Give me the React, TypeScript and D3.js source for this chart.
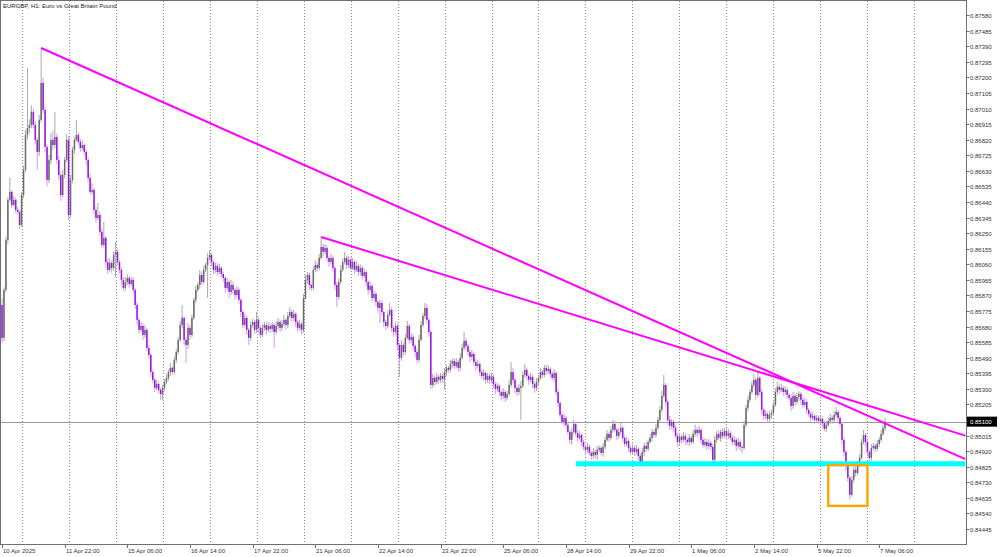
import React, { useEffect } from 'react';
import * as d3 from 'd3';

// EURGBP H1 — hourly closes, price × 100000, first bar = 10 Apr 2025 14:00
const firstOpen = 85812;
const closesW1 = [
  85611, 85904, 86209, 86453, 86502, 86422, 86453, 86392, 86380, 86300,
  86483, 86636, 86849, 86892, 86910, 86990, 86910, 86819, 86746, 86941, 87167, 87002,
  86776, 86575, 86697, 86819, 86788, 86837, 86697, 86605, 86483, 86605, 86697, 86819,
];
const closesW2 = [
  86361, 86575, 86758, 86819, 86849, 86807, 86770, 86788, 86746, 86697, 86587, 86502,
  86514, 86392, 86343, 86361, 86258, 86178, 86221, 86074, 86026, 86068, 86038, 86117,
  86136, 86074, 86026, 85965, 85916, 85952, 85977, 85940, 85965, 85904, 85812, 85721,
  85660, 85684, 85629, 85660, 85550, 85507, 85403, 85355, 85306, 85330, 85294, 85269,
  85306, 85342, 85367, 85403, 85428, 85403, 85477, 85525, 85599, 85690, 85733, 85599,
  85568, 85672, 85629, 85733, 85843, 85904, 85934, 85995, 85952, 86026, 86056, 86099,
  86117, 86074, 86026, 86050, 86013, 86038, 86001, 85977, 85916, 85952, 85891, 85934,
  85904, 85873, 85904, 85843, 85769, 85690, 85733, 85660, 85611, 85690, 85708, 85660,
  85721, 85672, 85629, 85672, 85690, 85660, 85684, 85666, 85690, 85647, 85684, 85708,
  85672, 85696, 85721, 85690, 85745, 85769, 85733, 85757, 85708, 85672, 85696, 85660,
];
const closesW3 = [
  85855, 85965, 85995, 85934, 85916, 86026, 86056, 86038, 86099, 86166, 86136, 86160,
  86099, 86074, 86099, 86038, 85934, 85861, 85952, 86026, 86074, 86099, 86056, 86087,
  86038, 86074, 86026, 86050, 86013, 86038, 85989, 86013, 85952, 85904, 85928, 85855,
  85879, 85830, 85794, 85824, 85769, 85708, 85684, 85751, 85782, 85672, 85647, 85684,
  85568, 85489, 85568, 85525, 85611, 85684, 85599, 85617, 85562, 85525, 85477, 85599,
  85690, 85745, 85794, 85721, 85647, 85324, 85367, 85342, 85373, 85355, 85379, 85361,
  85403, 85428, 85416, 85452, 85470, 85440, 85464, 85428, 85489, 85550, 85593, 85562,
  85525, 85495, 85513, 85464, 85440, 85452, 85403, 85379, 85397, 85355, 85379, 85355,
  85373, 85330, 85300, 85318, 85281, 85257, 85281, 85245, 85269, 85324, 85403, 85355,
  85306, 85281, 85306, 85318, 85385, 85416, 85379, 85355, 85373, 85330, 85306, 85342,
];
const closesW4 = [
  85367, 85403, 85385, 85428, 85409, 85422, 85391, 85367, 85397, 85281, 85214, 85141,
  85098, 85123, 85080, 85037, 84989, 85037, 85086, 85031, 85001, 85019, 84976, 84946,
  84928, 84946, 84909, 84891, 84915, 84897, 84928, 84940, 84909, 84946, 84989, 85025,
  85001, 85050, 85086, 85050, 85013, 85037, 85062, 85001, 84964, 84982, 84940, 84915,
  84940, 84915, 84934, 84891, 84854, 84915, 84952, 84934, 84976, 85001, 85037, 85019,
  85062, 85111, 85172, 85257, 85324, 85220, 85111, 85074, 85098, 85062, 85013, 84976,
  85007, 84989, 85013, 84989, 84976, 85001, 84976, 85025, 85050, 85031, 85050, 84989,
  84958, 84976, 84952, 84970, 84946, 84867, 84989, 85025, 85001, 85037, 85013, 85043,
  85013, 85031, 85001, 84976, 84989, 84952, 84976, 84946, 84940, 85080, 85184, 85233,
  85281, 85324, 85355, 85263, 85367, 85281, 85172, 85135, 85147, 85117, 85141, 85153,
];
const closesW5 = [
  85202, 85281, 85312, 85294, 85306, 85281, 85294, 85263, 85245, 85196, 85257, 85220,
  85251, 85269, 85233, 85202, 85220, 85172, 85147, 85123, 85135, 85111, 85123, 85104,
  85117, 85092, 85056, 85080, 85104, 85123, 85111, 85141, 85159, 85123, 85086, 84989,
  84915, 84830, 84757, 84653, 84745, 84806, 84787, 84842, 84879, 84976, 85019, 84976,
  84915, 84879, 84940, 84952, 84934, 84964, 84989, 85025, 85062, 85100,
];

// upper / lower shadow beyond the body, in points (0.00001)
const upperW1 = [
  43, 15, 20, 18, 90, 12, 25, 15, 20, 12,
  18, 25, 30, 366, 35, 40, 20, 25, 15, 30, 214, 30,
  18, 15, 30, 40, 55, 153, 20, 25, 15, 30, 20, 35,
];
const lowerW1 = [
  30, 20, 15, 25, 12, 18, 10, 20, 15, 25,
  12, 20, 15, 25, 30, 18, 22, 28, 110, 25, 15, 20,
  35, 40, 20, 25, 30, 18, 24, 30, 35, 15, 20, 12,
];
const upperW2 = [
  25, 30, 20, 18, 92, 15, 20, 30, 12, 18, 15, 24,
  40, 12, 18, 73, 15, 20, 98, 12, 18, 30, 15, 24,
  61, 20, 12, 15, 18, 30, 24, 12, 20, 15, 10, 18,
  12, 24, 15, 30, 12, 18, 10, 15, 12, 24, 15, 12,
  20, 18, 24, 15, 30, 12, 20, 18, 15, 24, 79, 12,
  15, 30, 18, 20, 15, 24, 18, 30, 20, 24, 15, 30,
  30, 15, 12, 20, 18, 24, 12, 15, 10, 24, 15, 30,
  18, 12, 24, 15, 10, 12, 30, 15, 12, 24, 18, 15,
  49, 15, 12, 24, 20, 15, 24, 18, 20, 12, 30, 24,
  15, 24, 30, 12, 24, 30, 15, 24, 12, 15, 24, 12,
];
const lowerW2 = [
  30, 15, 20, 24, 12, 18, 24, 15, 20, 30, 24, 18,
  15, 24, 30, 12, 24, 18, 15, 30, 24, 12, 30, 18,
  134, 18, 24, 30, 20, 15, 18, 24, 12, 20, 24, 30,
  24, 15, 30, 18, 20, 24, 30, 18, 24, 15, 20, 37,
  37, 15, 12, 18, 24, 15, 12, 20, 15, 12, 18, 30,
  110, 24, 30, 15, 12, 18, 15, 24, 18, 12, 15, 200,
  15, 24, 30, 18, 24, 12, 20, 24, 30, 15, 37, 18,
  24, 30, 15, 24, 30, 20, 15, 30, 43, 18, 15, 24,
  18, 30, 24, 15, 18, 30, 15, 24, 18, 98, 15, 20,
  24, 18, 15, 30, 18, 15, 24, 20, 30, 24, 15, 30,
];
const upperW3 = [
  24, 30, 18, 15, 12, 24, 30, 15, 24, 61, 18, 24,
  15, 12, 24, 15, 10, 18, 24, 30, 20, 37, 15, 24,
  18, 24, 15, 30, 12, 20, 15, 24, 12, 15, 30, 12,
  24, 15, 12, 20, 15, 10, 12, 24, 43, 15, 12, 24,
  15, 12, 30, 15, 24, 30, 12, 24, 15, 12, 18, 30,
  24, 18, 30, 24, 15, 12, 24, 15, 24, 12, 18, 15,
  24, 18, 12, 24, 15, 18, 24, 12, 30, 24, 55, 15,
  12, 15, 24, 12, 18, 24, 12, 15, 24, 12, 18, 15,
  24, 15, 12, 18, 12, 15, 24, 12, 18, 30, 61, 24,
  12, 15, 24, 30, 24, 37, 15, 12, 24, 15, 12, 24,
];
const lowerW3 = [
  18, 12, 24, 30, 18, 15, 12, 24, 15, 12, 30, 18,
  24, 30, 15, 24, 30, 61, 18, 15, 12, 15, 24, 18,
  15, 12, 24, 15, 24, 18, 24, 12, 24, 30, 15, 24,
  15, 24, 30, 92, 24, 30, 24, 15, 12, 24, 30, 18,
  30, 116, 18, 24, 15, 12, 24, 18, 24, 30, 24, 15,
  12, 15, 18, 24, 30, 24, 18, 24, 15, 24, 18, 24,
  67, 24, 18, 15, 24, 18, 15, 24, 18, 12, 15, 24,
  24, 30, 18, 24, 30, 15, 24, 18, 30, 24, 18, 24,
  18, 24, 30, 18, 24, 30, 18, 24, 15, 12, 15, 24,
  30, 24, 18, 195, 12, 15, 24, 30, 18, 24, 30, 18,
];
const upperW4 = [
  18, 24, 12, 18, 15, 24, 12, 18, 24, 12, 15, 12,
  18, 24, 12, 15, 12, 24, 24, 12, 18, 24, 12, 15,
  12, 24, 15, 12, 24, 18, 24, 15, 12, 24, 18, 24,
  15, 24, 24, 18, 12, 24, 30, 12, 15, 24, 12, 15,
  24, 15, 24, 12, 15, 24, 18, 24, 15, 24, 18, 15,
  24, 18, 24, 30, 61, 12, 15, 24, 18, 12, 15, 18,
  24, 15, 24, 18, 12, 24, 15, 24, 30, 15, 24, 12,
  15, 24, 18, 24, 12, 15, 24, 18, 24, 15, 24, 18,
  15, 24, 12, 18, 24, 12, 24, 15, 12, 24, 18, 24,
  18, 24, 37, 15, 37, 12, 18, 15, 24, 12, 24, 18,
];
const lowerW4 = [
  24, 12, 18, 15, 24, 12, 18, 15, 24, 18, 24, 18,
  15, 24, 18, 15, 24, 30, 15, 18, 24, 15, 24, 18,
  24, 18, 15, 24, 18, 24, 30, 15, 18, 24, 15, 12,
  24, 15, 18, 15, 24, 18, 15, 24, 18, 15, 24, 18,
  18, 24, 15, 24, 30, 15, 24, 18, 15, 12, 24, 18,
  15, 12, 18, 15, 12, 24, 30, 24, 18, 24, 15, 30,
  18, 24, 15, 30, 18, 24, 15, 12, 18, 24, 15, 24,
  18, 15, 24, 18, 24, 37, 12, 18, 15, 24, 18, 15,
  24, 18, 15, 24, 18, 30, 18, 24, 30, 12, 15, 18,
  15, 12, 18, 30, 15, 24, 30, 24, 18, 24, 15, 24,
];
const upperW5 = [
  18, 24, 30, 15, 24, 12, 24, 15, 12, 18, 24, 15,
  24, 18, 12, 15, 24, 18, 12, 15, 24, 12, 18, 15,
  24, 15, 12, 24, 18, 24, 15, 24, 30, 12, 15, 12,
  15, 12, 18, 12, 24, 18, 24, 15, 24, 18, 30, 12,
  15, 12, 24, 18, 15, 24, 18, 24, 18, 24,
];
const lowerW5 = [
  15, 12, 18, 24, 15, 24, 18, 24, 15, 30, 18, 24,
  15, 24, 30, 18, 15, 24, 18, 24, 15, 24, 18, 15,
  18, 24, 15, 18, 12, 18, 24, 15, 12, 24, 18, 30,
  24, 30, 24, 30, 12, 18, 24, 15, 18, 12, 15, 24,
  24, 30, 18, 15, 24, 12, 18, 15, 12, 18,
];

const priceTicks = [
  '0.84445', '0.84540', '0.84635', '0.84730', '0.84825', '0.84920', '0.85015', '0.85110',
  '0.85205', '0.85300', '0.85395', '0.85490', '0.85585', '0.85680', '0.85775', '0.85870',
  '0.85965', '0.86060', '0.86155', '0.86250', '0.86345', '0.86440', '0.86535', '0.86630',
  '0.86725', '0.86820', '0.86915', '0.87010', '0.87105', '0.87200', '0.87295', '0.87390',
  '0.87485', '0.87580',
];
const dateLabels = [
  '10 Apr 2025', '11 Apr 22:00', '15 Apr 06:00', '16 Apr 14:00', '17 Apr 22:00',
  '21 Apr 06:00', '22 Apr 14:00', '23 Apr 22:00', '25 Apr 06:00', '28 Apr 14:00',
  '29 Apr 22:00', '1 May 06:00', '2 May 14:00', '5 May 22:00', '7 May 06:00',
];
const dateLabelBars = [0, 32, 64, 96, 128, 160, 192, 224, 256, 288, 320, 352, 384, 416, 448];
const dayStartBars = [10, 34, 58, 82, 106, 130, 154, 178, 202, 226, 250, 274, 298, 322, 346, 370, 394, 418, 442, 466];

// drawn objects: [bar, price]
const trendLine1 = [[20, 0.8738], [492, 0.84871]];
const trendLine2 = [[163, 0.86227], [492, 0.85015]];
const supportLevel = 0.84843;
const supportBars = [293, 492];
const boxBars = [422, 442];
const boxPrices = [0.84586, 0.84835];
const bidPrice = 0.851;
const title = 'EURGBP, H1:  Euro vs Great Britain Pound';

const W = 1000;
const H = 557;
const PLOT_R = 966;
const PLOT_B = 544;
const BAR_STEP = 1.958;
const FONT = '"Liberation Sans", Arial, sans-serif';

export default function App() {
  useEffect(() => {
    document.body.style.margin = '0';
  }, []);

  const closes = [...closesW1, ...closesW2, ...closesW3, ...closesW4, ...closesW5];
  const uppers = [...upperW1, ...upperW2, ...upperW3, ...upperW4, ...upperW5];
  const lowers = [...lowerW1, ...lowerW2, ...lowerW3, ...lowerW4, ...lowerW5];
  const bars = closes.map((c, i) => {
    const o = i === 0 ? firstOpen : closes[i - 1];
    const h = Math.max(o, c) + uppers[i];
    const l = Math.min(o, c) - lowers[i];
    return { o: o / 1e5, h: h / 1e5, l: l / 1e5, c: c / 1e5 };
  });

  const x = d3.scaleLinear().domain([0, 492]).range([2, 2 + 492 * BAR_STEP]);
  const y = d3.scaleLinear().domain([0.84445, 0.8758]).range([529.0, 15.2]);

  return (
    <svg width={W} height={H} style={{ position: 'absolute', left: 0, top: 0, background: '#fff' }}>
      <defs>
        <clipPath id="plot">
          <rect x={0} y={0} width={PLOT_R} height={PLOT_B} />
        </clipPath>
      </defs>
      <rect x={0} y={0} width={W} height={H} fill="#fff" />
      {/* vertical dotted grid */}
      {dayStartBars.map((b) => (
        <line key={'g' + b} x1={Math.round(x(b)) + 0.5} x2={Math.round(x(b)) + 0.5} y1={1} y2={PLOT_B}
          stroke="#8c8c8c" strokeWidth={1} strokeDasharray="1,2" />
      ))}
      <g clipPath="url(#plot)">
        {/* bid line */}
        <line x1={0} x2={PLOT_R} y1={Math.round(y(bidPrice)) + 0.5} y2={Math.round(y(bidPrice)) + 0.5}
          stroke="#9a9a9a" strokeWidth={1} />
        {/* candles */}
        {bars.map((b, i) => {
          const cx = x(i);
          const bull = b.c >= b.o;
          const yt = y(Math.max(b.o, b.c));
          const yb = y(Math.min(b.o, b.c));
          return (
            <g key={i}>
              <line x1={cx} x2={cx} y1={y(b.h)} y2={y(b.l)} stroke={bull ? '#a9a9a9' : '#d29cf2'} strokeWidth={1} />
              <rect x={cx - 0.75} width={1.5} y={yt} height={Math.max(1, yb - yt)} fill={bull ? '#6a6a6a' : '#9a12e8'} />
            </g>
          );
        })}
        {/* trend lines */}
        {[trendLine1, trendLine2].map((t, k) => (
          <line key={'t' + k} x1={x(t[0][0])} y1={y(t[0][1])} x2={x(t[1][0])} y2={y(t[1][1])}
            stroke="#ff00ff" strokeWidth={2} />
        ))}
        {/* support */}
        <line x1={x(supportBars[0])} x2={x(supportBars[1])} y1={y(supportLevel)} y2={y(supportLevel)}
          stroke="#00ffff" strokeWidth={5} />
        {/* box */}
        <rect x={x(boxBars[0])} y={y(boxPrices[1])} width={x(boxBars[1]) - x(boxBars[0])}
          height={y(boxPrices[0]) - y(boxPrices[1])} fill="none" stroke="#ffa500" strokeWidth={2.4} />
      </g>
      {/* frame */}
      <rect x={0.5} y={0.5} width={PLOT_R} height={PLOT_B} fill="none" stroke="#6f6f6f" strokeWidth={1} />
      {/* title */}
      <text x={3} y={8} fontFamily={FONT} fontSize={6} fill="#222">{title}</text>
      {/* price axis */}
      {priceTicks.map((t) => {
        const yy = Math.round(y(+t)) + 0.5;
        return (
          <g key={t}>
            <line x1={PLOT_R + 0.5} x2={PLOT_R + 3.5} y1={yy} y2={yy} stroke="#6f6f6f" />
            <text x={PLOT_R + 4} y={yy} dy="0.35em" fontFamily={FONT} fontSize={6} fill="#333">{t}</text>
          </g>
        );
      })}
      {/* bid label */}
      <rect x={PLOT_R + 1} y={y(bidPrice) - 5} width={30} height={10} fill="#000" />
      <text x={PLOT_R + 4} y={y(bidPrice)} dy="0.35em" fontFamily={FONT} fontSize={6} fill="#fff">
        {bidPrice.toFixed(5)}
      </text>
      {/* time axis */}
      {dateLabels.map((d, k) => {
        const xx = Math.round(x(dateLabelBars[k])) + 0.5;
        return (
          <g key={d}>
            <line x1={xx} x2={xx} y1={PLOT_B + 0.5} y2={PLOT_B + 4} stroke="#6f6f6f" />
            <text x={xx + 0.5} y={553} fontFamily={FONT} fontSize={6} fill="#333">{d}</text>
          </g>
        );
      })}
    </svg>
  );
}
